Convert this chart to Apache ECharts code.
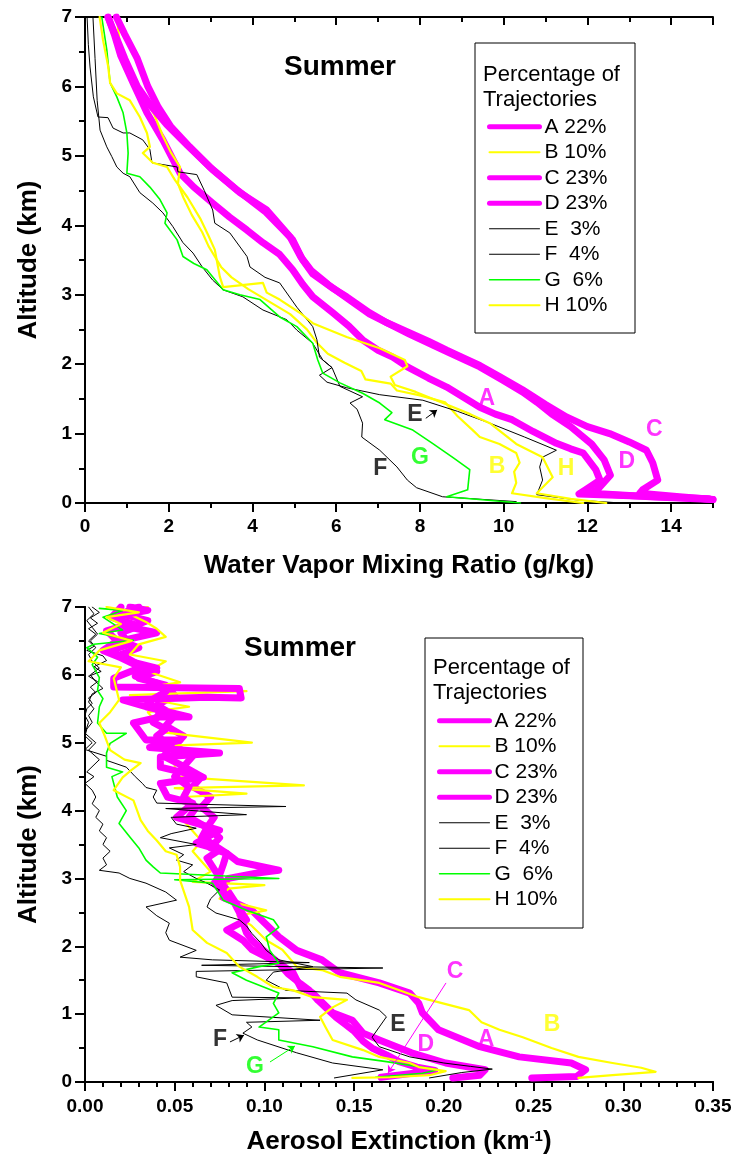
<!DOCTYPE html>
<html>
<head>
<meta charset="utf-8">
<script src="https://cdn.jsdelivr.net/npm/echarts@6/dist/echarts.min.js"></script>
<style>
html, body { margin: 0; padding: 0; background: #ffffff; }
#chart { width: 740px; height: 1168px; }
</style>
</head>
<body>
<div id="chart"></div>
<script>
// Trajectory cluster names (share of trajectories)
const clusterNames = ['A 22%', 'B 10%', 'C 23%', 'D 23%', 'E  3%', 'F  4%', 'G  6%', 'H 10%'];

// Water vapor mixing ratio profiles: [g/kg, km]
const wvA = [[0.55,7.0],[0.7,6.75],[0.85,6.45],[1.15,6.05],[1.48,5.62],[1.86,5.23],[2.1,4.95],[2.27,4.75],[2.6,4.55],[3.05,4.32],[3.45,4.12],[3.87,3.93],[4.25,3.75],[4.65,3.58],[4.96,3.36],[5.2,3.15],[5.44,2.97],[5.92,2.74],[6.3,2.55],[6.63,2.35],[7.0,2.2],[7.35,2.1],[7.7,1.96],[8.2,1.8],[8.64,1.67],[9.05,1.52],[9.43,1.38],[9.8,1.28],[10.2,1.2],[10.7,1.03],[11.26,0.86],[11.6,0.78],[11.9,0.72],[12.2,0.48],[12.3,0.33],[11.95,0.19],[11.8,0.13],[13.2,0.1],[14.9,0.06]];
const wvB = [[0.76,7.0],[0.82,6.67],[0.9,6.43],[1.05,6.2],[1.2,6.0],[1.4,5.85],[1.65,5.6],[1.85,5.3],[2.05,5.05],[2.27,4.84],[2.22,4.6],[2.35,4.4],[2.55,4.15],[2.8,3.9],[2.95,3.7],[3.1,3.55],[3.25,3.4],[3.5,3.25],[3.9,3.08],[4.4,2.9],[4.9,2.72],[5.3,2.5],[5.55,2.3],[5.8,2.15],[6.2,2.02],[6.6,1.9],[6.7,1.78],[7.3,1.72],[7.45,1.62],[8.0,1.55],[8.6,1.45],[8.9,1.25],[9.26,1.05],[9.43,0.95],[9.9,0.85],[10.3,0.72],[10.38,0.58],[10.25,0.45],[10.3,0.29],[10.2,0.14],[11.0,0.07],[11.9,0.0]];
const wvC = [[0.75,7.0],[0.95,6.75],[1.25,6.4],[1.5,6.0],[1.75,5.7],[2.05,5.42],[2.5,5.13],[3.05,4.8],[3.7,4.47],[4.34,4.22],[4.96,3.79],[5.2,3.5],[5.44,3.3],[5.9,3.1],[6.25,2.97],[6.8,2.74],[7.2,2.6],[7.76,2.45],[8.2,2.33],[8.64,2.2],[9.0,2.1],[9.43,1.98],[9.9,1.82],[10.45,1.63],[11.0,1.42],[11.5,1.24],[12.0,1.1],[12.53,1.0],[13.0,0.88],[13.41,0.76],[13.56,0.58],[13.68,0.33],[13.32,0.19],[13.25,0.14],[14.2,0.09],[15.0,0.05]];
const wvD = [[0.55,7.0],[0.75,6.7],[0.95,6.4],[1.25,6.0],[1.6,5.7],[1.95,5.45],[2.45,5.15],[3.0,4.83],[3.65,4.5],[4.3,4.2],[4.9,3.83],[5.15,3.55],[5.4,3.35],[5.8,3.15],[6.1,3.02],[6.8,2.72],[7.3,2.57],[7.76,2.43],[8.64,2.18],[9.43,1.96],[9.95,1.78],[10.45,1.6],[10.8,1.45],[11.15,1.28],[11.6,1.1],[12.1,0.85],[12.4,0.62],[12.55,0.4],[12.25,0.2],[12.1,0.14],[13.5,0.09],[15.0,0.05]];
const wvE = [[0.05,7.0],[0.08,6.6],[0.12,6.28],[0.2,5.85],[0.31,5.56],[0.55,5.55],[0.67,5.4],[0.91,5.33],[1.07,5.33],[1.38,5.23],[1.55,5.09],[1.6,4.9],[2.2,4.84],[2.22,4.77],[2.67,4.73],[2.85,4.5],[3.05,4.22],[3.1,4.03],[3.46,3.89],[3.87,3.55],[3.94,3.4],[4.3,3.25],[4.65,3.17],[5.06,2.82],[5.44,2.54],[5.54,2.35],[5.6,2.1],[5.9,1.95],[5.6,1.84],[5.78,1.74],[6.25,1.66],[7.04,1.56],[8.07,1.48],[8.9,1.32],[9.67,1.15],[10.5,0.95],[11.26,0.76],[10.93,0.66],[10.86,0.52],[10.93,0.33],[10.79,0.12],[11.8,0.04],[12.8,0.0]];
const wvF = [[0.19,7.0],[0.24,6.4],[0.29,5.8],[0.36,5.37],[0.52,5.13],[0.64,4.99],[0.76,4.84],[0.91,4.75],[1.07,4.7],[1.31,4.47],[1.62,4.32],[1.86,4.18],[2.1,3.98],[2.34,3.75],[2.58,3.6],[2.8,3.4],[3.05,3.21],[3.3,3.07],[3.77,2.97],[4.25,2.78],[4.82,2.64],[5.06,2.49],[5.44,2.3],[5.68,2.06],[5.9,1.95],[6.09,1.68],[6.63,1.53],[6.33,1.44],[6.5,1.35],[6.63,1.15],[6.61,0.95],[7.04,0.76],[7.45,0.52],[7.7,0.33],[7.92,0.22],[8.54,0.09],[10.3,0.02]];
const wvG = [[0.4,7.0],[0.52,6.53],[0.6,6.05],[0.76,5.85],[0.91,5.62],[1.0,5.33],[1.03,5.04],[1.0,4.75],[1.31,4.7],[1.55,4.55],[1.79,4.37],[1.96,4.18],[1.91,4.03],[2.2,3.79],[2.34,3.55],[2.6,3.45],[2.91,3.36],[3.3,3.07],[3.7,3.0],[4.18,2.93],[4.65,2.68],[5.06,2.54],[5.44,2.3],[5.56,2.06],[5.68,1.87],[6.09,1.73],[6.63,1.58],[7.04,1.44],[7.33,1.3],[7.16,1.2],[7.83,1.05],[8.3,0.86],[8.8,0.65],[9.19,0.48],[9.14,0.19],[8.64,0.09],[10.4,0.0]];
const wvH = [[0.35,7.0],[0.43,6.67],[0.55,6.3],[0.6,6.05],[0.76,5.9],[1.07,5.8],[1.31,5.56],[1.48,5.33],[1.55,5.13],[1.38,5.04],[1.62,4.9],[1.96,4.84],[2.15,4.65],[2.45,4.4],[2.75,4.1],[2.95,3.85],[3.1,3.65],[3.22,3.26],[3.3,3.11],[4.25,3.17],[4.34,3.03],[4.65,2.93],[5.13,2.74],[5.44,2.59],[6.25,2.39],[7.04,2.23],[7.64,2.06],[7.7,1.97],[7.3,1.82],[7.4,1.7],[7.9,1.6],[8.64,1.42],[9.2,1.28],[9.67,1.15],[10.3,0.85],[10.93,0.66],[11.17,0.37],[10.79,0.14],[11.6,0.06],[12.45,0.0]];

// Aerosol extinction profiles: [1/km, km]
const aeA = [[0.03,7.0],[0.02,6.9],[0.035,6.8],[0.025,6.7],[0.04,6.62],[0.02,6.5],[0.03,6.4],[0.02,6.3],[0.03,6.15],[0.04,6.05],[0.03,5.95],[0.045,5.85],[0.05,5.7],[0.04,5.55],[0.05,5.4],[0.045,5.25],[0.055,5.1],[0.05,4.95],[0.06,4.8],[0.055,4.65],[0.065,4.5],[0.06,4.35],[0.07,4.2],[0.065,4.05],[0.072,3.9],[0.068,3.75],[0.075,3.6],[0.07,3.45],[0.079,3.37],[0.085,3.25],[0.108,3.12],[0.096,3.08],[0.08,3.0],[0.077,2.9],[0.08,2.8],[0.084,2.64],[0.093,2.53],[0.098,2.4],[0.108,2.14],[0.118,1.94],[0.132,1.8],[0.142,1.61],[0.164,1.46],[0.181,1.31],[0.186,1.16],[0.188,1.02],[0.197,0.77],[0.22,0.52],[0.242,0.37],[0.271,0.28],[0.279,0.18],[0.274,0.08],[0.249,0.06]];
const aeB = [[0.035,7.0],[0.022,6.93],[0.034,6.78],[0.04,6.68],[0.045,6.56],[0.03,6.45],[0.025,6.3],[0.045,6.2],[0.035,6.05],[0.053,5.89],[0.03,5.8],[0.09,5.76],[0.025,5.7],[0.058,5.53],[0.035,5.45],[0.04,5.3],[0.045,5.15],[0.093,5.0],[0.04,4.95],[0.045,4.85],[0.05,4.7],[0.05,4.5],[0.122,4.37],[0.05,4.33],[0.09,4.25],[0.055,4.2],[0.06,4.0],[0.055,3.85],[0.06,3.7],[0.065,3.55],[0.06,3.4],[0.065,3.25],[0.07,3.1],[0.06,2.95],[0.1,2.9],[0.08,2.85],[0.075,2.7],[0.101,2.53],[0.085,2.45],[0.093,2.3],[0.101,2.09],[0.11,1.95],[0.118,1.7],[0.132,1.65],[0.142,1.55],[0.164,1.46],[0.186,1.25],[0.214,1.06],[0.221,0.88],[0.231,0.77],[0.244,0.66],[0.26,0.5],[0.275,0.37],[0.294,0.28],[0.31,0.21],[0.318,0.15],[0.294,0.1],[0.275,0.06]];
const aeC = [[0.025,7.0],[0.035,6.95],[0.015,6.85],[0.03,6.72],[0.02,6.62],[0.025,6.45],[0.014,6.36],[0.025,6.2],[0.04,6.1],[0.028,5.98],[0.04,5.88],[0.045,5.75],[0.035,5.6],[0.042,5.45],[0.038,5.3],[0.045,5.2],[0.04,5.1],[0.048,4.95],[0.044,4.8],[0.055,4.65],[0.05,4.5],[0.058,4.35],[0.055,4.2],[0.062,4.05],[0.058,3.9],[0.068,3.75],[0.065,3.6],[0.068,3.56],[0.079,3.37],[0.077,3.2],[0.075,3.05],[0.072,2.93],[0.077,2.8],[0.083,2.65],[0.086,2.5],[0.088,2.35],[0.09,2.2],[0.093,2.09],[0.099,1.95],[0.108,1.75],[0.113,1.6],[0.12,1.45],[0.125,1.35],[0.13,1.2],[0.136,1.05],[0.14,0.95],[0.145,0.85],[0.15,0.75],[0.155,0.6],[0.16,0.5],[0.168,0.4],[0.175,0.3],[0.185,0.22],[0.195,0.17],[0.18,0.12],[0.165,0.07]];
const aeD = [[0.02,7.0],[0.015,6.85],[0.025,6.75],[0.012,6.65],[0.018,6.5],[0.01,6.36],[0.02,6.25],[0.031,6.11],[0.016,5.95],[0.016,5.82],[0.086,5.8],[0.087,5.66],[0.068,5.67],[0.021,5.63],[0.034,5.53],[0.058,5.38],[0.042,5.38],[0.027,5.29],[0.034,5.04],[0.053,5.04],[0.036,4.93],[0.075,4.85],[0.042,4.79],[0.042,4.64],[0.066,4.49],[0.042,4.4],[0.046,4.2],[0.06,4.11],[0.051,3.9],[0.075,3.71],[0.062,3.52],[0.075,3.42],[0.068,3.3],[0.077,2.93],[0.077,2.72],[0.084,2.64],[0.09,2.39],[0.079,2.24],[0.088,2.09],[0.093,1.95],[0.108,1.75],[0.116,1.61],[0.12,1.4],[0.127,1.31],[0.138,1.02],[0.149,0.91],[0.155,0.72],[0.164,0.62],[0.182,0.43],[0.201,0.28],[0.223,0.18],[0.22,0.1],[0.205,0.06]];
const aeE = [[0.002,7.0],[0.005,6.9],[0.001,6.8],[0.004,6.7],[0.007,6.6],[0.003,6.5],[0.006,6.4],[0.002,6.3],[0.004,6.2],[0.008,6.1],[0.003,6.0],[0.006,5.9],[0.01,5.8],[0.004,5.72],[0.002,5.6],[0.005,5.5],[0.002,5.4],[0.004,5.3],[0.001,5.2],[0.0,5.1],[0.004,5.0],[0.0,4.9],[0.012,4.8],[0.012,4.74],[0.023,4.64],[0.028,4.5],[0.032,4.4],[0.034,4.34],[0.04,4.3],[0.038,4.2],[0.04,4.11],[0.112,4.06],[0.045,4.03],[0.09,3.94],[0.048,3.9],[0.051,3.8],[0.062,3.74],[0.048,3.66],[0.042,3.6],[0.062,3.5],[0.047,3.45],[0.055,3.35],[0.051,3.27],[0.06,3.2],[0.055,3.1],[0.062,3.0],[0.068,2.93],[0.075,2.83],[0.07,2.7],[0.068,2.58],[0.073,2.49],[0.086,2.39],[0.09,2.3],[0.093,2.19],[0.098,2.05],[0.101,1.94],[0.108,1.8],[0.127,1.7],[0.105,1.62],[0.101,1.5],[0.112,1.35],[0.146,1.31],[0.151,1.21],[0.164,1.06],[0.168,0.96],[0.164,0.81],[0.16,0.66],[0.164,0.52],[0.181,0.37],[0.2,0.28],[0.215,0.23],[0.227,0.19],[0.21,0.14],[0.192,0.06]];
const aeF = [[0.004,7.0],[0.008,6.92],[0.003,6.84],[0.007,6.76],[0.002,6.68],[0.006,6.6],[0.002,6.5],[0.005,6.42],[0.001,6.36],[0.01,6.28],[0.012,6.21],[0.005,6.12],[0.009,6.05],[0.002,5.98],[0.007,5.9],[0.003,5.82],[0.006,5.74],[0.002,5.66],[0.004,5.58],[0.001,5.5],[0.0,5.4],[0.002,5.3],[0.0,5.14],[0.006,5.0],[0.002,4.89],[0.008,4.75],[0.001,4.57],[0.005,4.5],[0.0,4.4],[0.004,4.3],[0.006,4.2],[0.004,4.1],[0.008,4.0],[0.006,3.9],[0.01,3.8],[0.008,3.7],[0.012,3.6],[0.01,3.5],[0.014,3.4],[0.01,3.3],[0.012,3.2],[0.008,3.12],[0.019,3.08],[0.025,3.0],[0.034,2.93],[0.045,2.8],[0.051,2.68],[0.034,2.58],[0.04,2.45],[0.047,2.34],[0.045,2.2],[0.047,2.09],[0.062,1.94],[0.053,1.84],[0.071,1.8],[0.125,1.76],[0.065,1.72],[0.166,1.68],[0.062,1.63],[0.062,1.55],[0.079,1.46],[0.082,1.25],[0.12,1.24],[0.082,1.2],[0.073,1.13],[0.082,0.99],[0.131,0.91],[0.09,0.88],[0.093,0.81],[0.088,0.72],[0.096,0.62],[0.118,0.43],[0.138,0.28],[0.166,0.18],[0.139,0.06]];
const aeG = [[0.008,6.98],[0.021,6.95],[0.01,6.85],[0.021,6.66],[0.008,6.61],[0.027,6.51],[0.005,6.45],[0.001,6.4],[0.007,6.26],[0.004,6.15],[0.008,5.96],[0.007,5.77],[0.01,5.65],[0.008,5.53],[0.007,5.29],[0.012,5.14],[0.023,5.14],[0.014,4.99],[0.012,4.85],[0.012,4.64],[0.021,4.57],[0.015,4.5],[0.018,4.2],[0.023,4.0],[0.019,3.81],[0.025,3.61],[0.03,3.45],[0.034,3.27],[0.038,3.17],[0.042,3.08],[0.108,3.0],[0.05,2.98],[0.071,2.93],[0.077,2.68],[0.09,2.53],[0.105,2.39],[0.108,2.28],[0.101,2.14],[0.103,1.94],[0.108,1.75],[0.097,1.7],[0.082,1.61],[0.09,1.5],[0.108,1.31],[0.105,1.16],[0.108,1.02],[0.097,0.81],[0.108,0.77],[0.108,0.62],[0.127,0.52],[0.149,0.37],[0.168,0.3],[0.197,0.18],[0.188,0.13],[0.162,0.07]];
const aeH = [[0.012,7.0],[0.03,6.92],[0.012,6.85],[0.02,6.75],[0.01,6.62],[0.026,6.5],[0.008,6.36],[0.002,6.2],[0.02,6.11],[0.016,5.95],[0.019,5.63],[0.014,5.45],[0.008,5.29],[0.011,5.1],[0.014,4.89],[0.022,4.75],[0.031,4.7],[0.026,4.6],[0.021,4.49],[0.016,4.3],[0.027,4.15],[0.031,3.86],[0.035,3.7],[0.04,3.56],[0.045,3.4],[0.051,3.35],[0.053,3.17],[0.053,2.97],[0.058,2.58],[0.06,2.24],[0.068,2.05],[0.079,1.9],[0.086,1.7],[0.096,1.55],[0.105,1.4],[0.116,1.35],[0.127,1.25],[0.146,1.21],[0.138,1.1],[0.131,0.96],[0.134,0.81],[0.138,0.62],[0.155,0.47],[0.164,0.37],[0.181,0.28],[0.186,0.22],[0.201,0.16],[0.192,0.1],[0.17,0.07],[0.149,0.06]];

// Curve tags: [text, x, altitude]
const wvTags = [['A',9.6,1.51],['B',9.84,0.53],['C',13.6,1.05],['D',12.94,0.59],['E',7.88,1.27],['F',7.05,0.5],['G',8.0,0.65],['H',11.49,0.5]];
const aeTags = [['A',0.2235,0.62],['B',0.2603,0.84],['C',0.2062,1.62],['D',0.190,0.545],['E',0.1744,0.84],['F',0.0752,0.62],['G',0.0947,0.22]];
// Pointer arrows: [tag, x1, y1, x2, y2]
const wvPointers = [['E',8.14,1.22,8.41,1.34]];
const aePointers = [['C',0.2012,1.46,0.1689,0.133],['F',0.0808,0.59,0.0886,0.69],['G',0.1031,0.295,0.117,0.53]];

// Axis ranges and tick steps
const wvRange = [0, 15], wvStep = 2;
const aeRange = [0, 0.35], aeStep = 0.05;
const altRange = [0, 7], altStep = 1;

const MAGENTA = '#ff00ff', YELLOW = '#ffff00', BLACK = '#000000', GREEN = '#00ff00';
const clusterStyle = {
  A: { color: MAGENTA, width: 7, legend: 5 },
  B: { color: YELLOW, width: 2.2, legend: 2 },
  C: { color: MAGENTA, width: 7, legend: 5 },
  D: { color: MAGENTA, width: 7, legend: 5 },
  E: { color: BLACK, width: 1, legend: 1 },
  F: { color: BLACK, width: 1, legend: 1 },
  G: { color: GREEN, width: 1.6, legend: 1.5 },
  H: { color: YELLOW, width: 2.2, legend: 2 }
};

const AXIS_FONT = '"Liberation Sans", Arial, sans-serif';
const TEXT_FONT = '"Liberation Sans", Arial, sans-serif';
const TICK_SIZE = 19, NAME_SIZE = 26;
const frameLine = { show: true, lineStyle: { color: '#000', width: 2 } };
const tickStyle = { color: '#000', width: 2 };

function frameAxis(gridIndex, position, range, step, tickLen, extra) {
  return Object.assign({
    type: 'value', gridIndex, position, min: range[0], max: range[1], interval: step,
    axisLine: frameLine, splitLine: { show: false },
    axisTick: { show: true, inside: true, length: tickLen, lineStyle: tickStyle },
    axisLabel: { show: false }
  }, extra || {});
}

const xAxes = [
  // upper panel: labelled bottom axis, odd-number ticks, top frame
  {
    type: 'value', gridIndex: 0, position: 'bottom', min: wvRange[0], max: wvRange[1], interval: wvStep,
    axisLine: frameLine, splitLine: { show: false },
    axisTick: { show: true, inside: false, length: 9, lineStyle: tickStyle },
    axisLabel: { show: true, showMaxLabel: false, margin: 14, color: '#000', fontSize: TICK_SIZE, fontWeight: 'bold', fontFamily: AXIS_FONT },
    name: 'Water Vapor Mixing Ratio (g/kg)', nameLocation: 'middle', nameGap: 50,
    nameTextStyle: { color: '#000', fontSize: NAME_SIZE, fontWeight: 'bold', fontFamily: AXIS_FONT }
  },
  {
    type: 'value', gridIndex: 0, position: 'bottom', min: wvRange[0], max: wvRange[1], interval: 1,
    axisLine: { show: false }, splitLine: { show: false },
    axisTick: { show: true, inside: false, length: 5, lineStyle: tickStyle }, axisLabel: { show: false }
  },
  frameAxis(0, 'top', wvRange, wvStep, 8),
  Object.assign(frameAxis(0, 'top', wvRange, 1, 5), { axisLine: { show: false } }),
  // lower panel
  {
    type: 'value', gridIndex: 1, position: 'bottom', min: aeRange[0], max: aeRange[1], interval: aeStep,
    axisLine: frameLine, splitLine: { show: false },
    axisTick: { show: true, inside: false, length: 9, lineStyle: tickStyle },
    minorTick: { show: true, splitNumber: 5, length: 5, lineStyle: tickStyle },
    axisLabel: { show: true, margin: 15, color: '#000', fontSize: TICK_SIZE, fontWeight: 'bold', fontFamily: AXIS_FONT,
      formatter: v => v.toFixed(2) },
    name: 'Aerosol Extinction (km{sup|-1})', nameLocation: 'middle', nameGap: 47,
    nameTextStyle: { color: '#000', fontSize: NAME_SIZE, fontWeight: 'bold', fontFamily: AXIS_FONT,
      rich: { sup: { fontSize: 15, fontWeight: 'bold', fontFamily: AXIS_FONT, color: '#000', verticalAlign: 'top' } } }
  },
  frameAxis(1, 'top', aeRange, aeStep, 8, { minorTick: { show: true, splitNumber: 5, length: 5, lineStyle: tickStyle } })
];

function altitudeAxis(gridIndex) {
  return {
    type: 'value', gridIndex, position: 'left', min: altRange[0], max: altRange[1], interval: altStep,
    axisLine: frameLine, splitLine: { show: false },
    axisTick: { show: true, inside: false, length: 10, lineStyle: tickStyle },
    minorTick: { show: true, splitNumber: 2, length: 6, lineStyle: tickStyle },
    axisLabel: { show: true, margin: 13, color: '#000', fontSize: TICK_SIZE, fontWeight: 'bold', fontFamily: AXIS_FONT },
    name: 'Altitude (km)', nameLocation: 'middle', nameGap: 43, nameRotate: 90,
    nameTextStyle: { color: '#000', fontSize: NAME_SIZE, fontWeight: 'bold', fontFamily: AXIS_FONT }
  };
}
const yAxes = [
  altitudeAxis(0),
  frameAxis(0, 'right', altRange, altStep, 10, { minorTick: { show: true, splitNumber: 2, length: 5, lineStyle: tickStyle } }),
  altitudeAxis(1),
  frameAxis(1, 'right', altRange, altStep, 10, { minorTick: { show: true, splitNumber: 2, length: 5, lineStyle: tickStyle } })
];

const wvProfiles = [wvA, wvB, wvC, wvD, wvE, wvF, wvG, wvH];
const aeProfiles = [aeA, aeB, aeC, aeD, aeE, aeF, aeG, aeH];

function profileSeries(profiles, xAxisIndex, yAxisIndex) {
  return profiles.map((data, i) => {
    const st = clusterStyle[clusterNames[i][0]];
    return {
      type: 'line', name: clusterNames[i], data, xAxisIndex, yAxisIndex,
      symbol: 'none', showSymbol: false, smooth: false, clip: true, silent: true,
      lineStyle: { color: st.color, width: st.width, join: 'round', cap: 'round' },
      itemStyle: { color: st.color }, z: 2 + i * 0.01
    };
  });
}

function tagSeries(tags, xAxisIndex, yAxisIndex) {
  return {
    type: 'scatter', name: 'tags', xAxisIndex, yAxisIndex, silent: true, z: 5,
    symbolSize: 1, itemStyle: { color: 'rgba(0,0,0,0)' },
    label: { show: true, position: 'inside', formatter: '{b}', fontSize: 23, fontWeight: 'bold', fontFamily: TEXT_FONT },
    data: tags.map(t => ({ name: t[0], value: [t[1], t[2]], label: { color: clusterStyle[t[0]].color } }))
  };
}

function pointerSeries(pointers, xAxisIndex, yAxisIndex) {
  return {
    type: 'lines', coordinateSystem: 'cartesian2d', xAxisIndex, yAxisIndex, silent: true, z: 5,
    symbol: ['none', 'arrow'], symbolSize: 7,
    data: pointers.map(p => ({ coords: [[p[1], p[2]], [p[3], p[4]]],
      lineStyle: { color: clusterStyle[p[0]].color, width: 1, opacity: 1 } }))
  };
}

function legendFor(left, top) {
  return {
    orient: 'vertical', left, top, itemWidth: 50, itemHeight: 14, itemGap: 4,
    selectedMode: false, padding: 0,
    itemStyle: { color: 'rgba(0,0,0,0)', borderWidth: 0, opacity: 0 },
    textStyle: { color: '#000', fontSize: 21, fontFamily: TEXT_FONT, lineHeight: 21.5 },
    data: clusterNames.map(n => {
      const st = clusterStyle[n[0]];
      return { name: n, lineStyle: { color: st.color, width: st.legend, opacity: 1 } };
    })
  };
}

function panelDecor(box, titleX, titleY, headX, headY) {
  return [
    { type: 'rect', shape: { x: box[0], y: box[1], width: box[2], height: box[3] },
      style: { fill: 'none', stroke: '#000', lineWidth: 1 }, z: 1 },
    { type: 'text', x: headX, y: headY,
      style: { text: 'Percentage of\nTrajectories', fill: '#000', font: '22px "Liberation Sans", Arial, sans-serif', lineHeight: 25, align: 'left', verticalAlign: 'top' } },
    { type: 'text', x: titleX, y: titleY,
      style: { text: 'Summer', fill: '#000', font: 'bold 28px "Liberation Sans", Arial, sans-serif', align: 'center', verticalAlign: 'middle' } }
  ];
}

const chart = echarts.init(document.getElementById('chart'), null, { renderer: 'canvas' });
chart.setOption({
  animation: false,
  backgroundColor: '#ffffff',
  grid: [
    { left: 85, top: 17, width: 628, height: 486, containLabel: false, outerBoundsMode: 'none' },
    { left: 85, top: 607, width: 628, height: 475, containLabel: false, outerBoundsMode: 'none' }
  ],
  xAxis: xAxes,
  yAxis: yAxes,
  legend: [legendFor(487, 116), legendFor(437, 710)],
  graphic: [].concat(
    panelDecor([475, 43, 160, 290], 340, 67, 483, 62),
    panelDecor([425, 638, 158, 290], 300, 648, 433, 655)
  ),
  series: [].concat(
    profileSeries(wvProfiles, 0, 0),
    [tagSeries(wvTags, 0, 0), pointerSeries(wvPointers, 0, 0)],
    profileSeries(aeProfiles, 4, 2),
    [tagSeries(aeTags, 4, 2), pointerSeries(aePointers, 4, 2)]
  )
});
</script>
</body>
</html>
